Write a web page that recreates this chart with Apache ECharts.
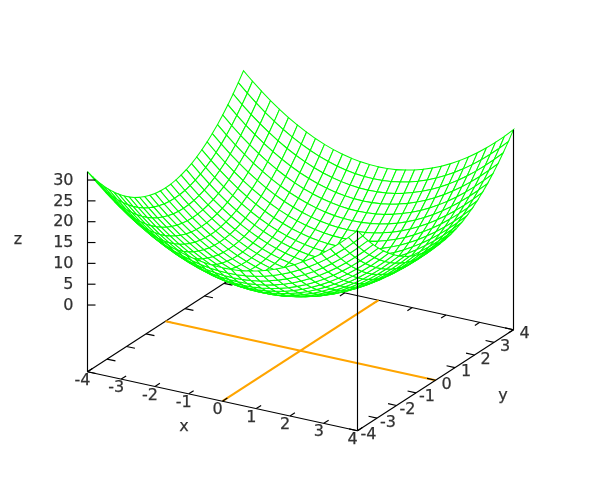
<!DOCTYPE html>
<html><head><meta charset="utf-8"><style>html,body{margin:0;background:#fff}#c{width:600px;height:500px}</style>
<script src="https://cdn.jsdelivr.net/npm/echarts@6/dist/echarts.min.js"></script></head><body><div id="c"></div><script>
const xSamples=[-4,-3.7333,-3.4667,-3.2,-2.9333,-2.6667,-2.4,-2.1333,-1.8667,-1.6,-1.3333,-1.0667,-0.8,-0.5333,-0.2667,0,0.2667,0.5333,0.8,1.0667,1.3333,1.6,1.8667,2.1333,2.4,2.6667,2.9333,3.2,3.4667,3.7333,4];
const ySamples=[-4,-3.7333,-3.4667,-3.2,-2.9333,-2.6667,-2.4,-2.1333,-1.8667,-1.6,-1.3333,-1.0667,-0.8,-0.5333,-0.2667,0,0.2667,0.5333,0.8,1.0667,1.3333,1.6,1.8667,2.1333,2.4,2.6667,2.9333,3.2,3.4667,3.7333,4];
const row0=[32,29.94,28.02,26.24,24.6,23.11,21.76,20.55,19.48,18.56,17.78,17.14,16.64,16.28,16.07,16,16.07,16.28,16.64,17.14,17.78,18.56,19.48,20.55,21.76,23.11,24.6,26.24,28.02,29.94,32];
const row1=[29.94,27.88,25.96,24.18,22.54,21.05,19.7,18.49,17.42,16.5,15.72,15.08,14.58,14.22,14.01,13.94,14.01,14.22,14.58,15.08,15.72,16.5,17.42,18.49,19.7,21.05,22.54,24.18,25.96,27.88,29.94];
const row2=[28.02,25.96,24.04,22.26,20.62,19.13,17.78,16.57,15.5,14.58,13.8,13.16,12.66,12.3,12.09,12.02,12.09,12.3,12.66,13.16,13.8,14.58,15.5,16.57,17.78,19.13,20.62,22.26,24.04,25.96,28.02];
const row3=[26.24,24.18,22.26,20.48,18.84,17.35,16,14.79,13.72,12.8,12.02,11.38,10.88,10.52,10.31,10.24,10.31,10.52,10.88,11.38,12.02,12.8,13.72,14.79,16,17.35,18.84,20.48,22.26,24.18,26.24];
const row4=[24.6,22.54,20.62,18.84,17.2,15.71,14.36,13.15,12.08,11.16,10.38,9.74,9.24,8.88,8.67,8.6,8.67,8.88,9.24,9.74,10.38,11.16,12.08,13.15,14.36,15.71,17.2,18.84,20.62,22.54,24.6];
const row5=[23.11,21.05,19.13,17.35,15.71,14.22,12.87,11.66,10.59,9.67,8.89,8.25,7.75,7.39,7.18,7.11,7.18,7.39,7.75,8.25,8.89,9.67,10.59,11.66,12.87,14.22,15.71,17.35,19.13,21.05,23.11];
const row6=[21.76,19.7,17.78,16,14.36,12.87,11.52,10.31,9.24,8.32,7.54,6.9,6.4,6.04,5.83,5.76,5.83,6.04,6.4,6.9,7.54,8.32,9.24,10.31,11.52,12.87,14.36,16,17.78,19.7,21.76];
const row7=[20.55,18.49,16.57,14.79,13.15,11.66,10.31,9.1,8.03,7.11,6.33,5.69,5.19,4.83,4.62,4.55,4.62,4.83,5.19,5.69,6.33,7.11,8.03,9.1,10.31,11.66,13.15,14.79,16.57,18.49,20.55];
const row8=[19.48,17.42,15.5,13.72,12.08,10.59,9.24,8.03,6.96,6.04,5.26,4.62,4.12,3.76,3.55,3.48,3.55,3.76,4.12,4.62,5.26,6.04,6.96,8.03,9.24,10.59,12.08,13.72,15.5,17.42,19.48];
const row9=[18.56,16.5,14.58,12.8,11.16,9.67,8.32,7.11,6.04,5.12,4.34,3.7,3.2,2.84,2.63,2.56,2.63,2.84,3.2,3.7,4.34,5.12,6.04,7.11,8.32,9.67,11.16,12.8,14.58,16.5,18.56];
const row10=[17.78,15.72,13.8,12.02,10.38,8.89,7.54,6.33,5.26,4.34,3.56,2.92,2.42,2.06,1.85,1.78,1.85,2.06,2.42,2.92,3.56,4.34,5.26,6.33,7.54,8.89,10.38,12.02,13.8,15.72,17.78];
const row11=[17.14,15.08,13.16,11.38,9.74,8.25,6.9,5.69,4.62,3.7,2.92,2.28,1.78,1.42,1.21,1.14,1.21,1.42,1.78,2.28,2.92,3.7,4.62,5.69,6.9,8.25,9.74,11.38,13.16,15.08,17.14];
const row12=[16.64,14.58,12.66,10.88,9.24,7.75,6.4,5.19,4.12,3.2,2.42,1.78,1.28,0.92,0.71,0.64,0.71,0.92,1.28,1.78,2.42,3.2,4.12,5.19,6.4,7.75,9.24,10.88,12.66,14.58,16.64];
const row13=[16.28,14.22,12.3,10.52,8.88,7.39,6.04,4.83,3.76,2.84,2.06,1.42,0.92,0.56,0.35,0.28,0.35,0.56,0.92,1.42,2.06,2.84,3.76,4.83,6.04,7.39,8.88,10.52,12.3,14.22,16.28];
const row14=[16.07,14.01,12.09,10.31,8.67,7.18,5.83,4.62,3.55,2.63,1.85,1.21,0.71,0.35,0.14,0.07,0.14,0.35,0.71,1.21,1.85,2.63,3.55,4.62,5.83,7.18,8.67,10.31,12.09,14.01,16.07];
const row15=[16,13.94,12.02,10.24,8.6,7.11,5.76,4.55,3.48,2.56,1.78,1.14,0.64,0.28,0.07,0,0.07,0.28,0.64,1.14,1.78,2.56,3.48,4.55,5.76,7.11,8.6,10.24,12.02,13.94,16];
const zValues=[row0,row1,row2,row3,row4,row5,row6,row7,row8,row9,row10,row11,row12,row13,row14,row15,row14,row13,row12,row11,row10,row9,row8,row7,row6,row5,row4,row3,row2,row1,row0];
const xTicks=[-4,-3,-2,-1,0,1,2,3,4];
const yTicks=[-4,-3,-2,-1,0,1,2,3,4];
const zTicks=[0,5,10,15,20,25,30];
const orangeX=[0,0],orangeY=[0,0];

const zBase=-16,zTop=32;
const P=(x,y,z)=>[87.5+(x+4)*33.75+(y+4)*19.5, 371.7+(x+4)*7.375-(y+4)*12.625-(z-zBase)*4.1667];
const seg=(a,b,z,c,w)=>({type:'line',coordinateSystem:'cartesian2d',z:z,data:[a,b],symbol:'none',silent:true,animation:false,lineStyle:{color:c||'#000',width:w||1.15}});
const labels=(pts,align)=>({type:'scatter',symbolSize:0,z:6,silent:true,animation:false,data:pts.map(p=>({value:[p[0],p[1]],t:p[2]})),
 label:{show:true,position:'inside',formatter:o=>o.data.t,fontFamily:'"DejaVu Sans"',fontSize:16,color:'#000',textBorderColor:'#000',textBorderWidth:0.25,align:align||'center',verticalAlign:'middle'}});
const back=[seg(P(-4,-4,zBase),P(-4,4,zBase),1),seg(P(-4,4,zBase),P(4,4,zBase),1)];
for(const y of yTicks)back.push(seg(P(-4,y,zBase),P(-3.75,y,zBase),1));
for(const x of xTicks)back.push(seg(P(x,4,zBase),P(x,3.75,zBase),1));
back.push(seg(P(orangeX[0],-4,zBase),P(orangeX[1],4,zBase),1,'#ffa500',2.2),seg(P(-4,orangeY[0],zBase),P(4,orangeY[1],zBase),1,'#ffa500',2.2));
const quads=[];
for(let i=0;i<xSamples.length-1;i++)for(let j=ySamples.length-2;j>=0;j--)quads.push([i,j]);
const mesh={type:'custom',coordinateSystem:'cartesian2d',z:2,silent:true,animation:false,progressive:0,data:quads,encode:{x:0,y:1},clip:false,
 renderItem:(p,api)=>{const i=api.value(0),j=api.value(1);
  const c=[[i,j],[i+1,j],[i+1,j+1],[i,j+1]].map(q=>api.coord(P(xSamples[q[0]],ySamples[q[1]],zValues[q[0]][q[1]])));
  return {type:'polygon',shape:{points:c},style:{fill:'#fff',stroke:'#00ff00',lineWidth:1.05}};}};
const front=[seg(P(-4,-4,zBase),P(4,-4,zBase),3),seg(P(4,-4,zBase),P(4,4,zBase),3),
 seg(P(-4,-4,zBase),P(-4,-4,zTop),3),seg(P(4,-4,zBase),P(4,-4,zTop),3),seg(P(4,4,zBase),P(4,4,zTop),3)];
for(const x of xTicks)front.push(seg(P(x,-4,zBase),P(x,-3.75,zBase),3));
for(const y of yTicks)front.push(seg(P(4,y,zBase),P(3.75,y,zBase),3));
for(const z of zTicks){const a=P(-4,-4,z);front.push(seg(a,[a[0]+8,a[1]],3));}
const lab=[
 labels(xTicks.map(x=>{const a=P(x,-4,zBase);return [a[0]-5,a[1]+9,String(x)];})),
 labels(yTicks.map(y=>{const a=P(4,y,zBase);return [a[0]+11,a[1]+4.5,String(y)];})),
 labels(zTicks.map(z=>{const a=P(-4,-4,z);return [a[0]-14,a[1]+0.5,String(z)];}),'right'),
 labels([[184,427,'x'],[503,396,'y'],[18,240,'z']])];
const chart=echarts.init(document.getElementById('c'),null,{renderer:'canvas'});
chart.setOption({animation:false,backgroundColor:'#fff',grid:{left:0,right:0,top:0,bottom:0},
 xAxis:{type:'value',min:0,max:600,show:false},yAxis:{type:'value',min:0,max:500,inverse:true,show:false},
 series:[...back,mesh,...front,...lab]});
</script></body></html>
